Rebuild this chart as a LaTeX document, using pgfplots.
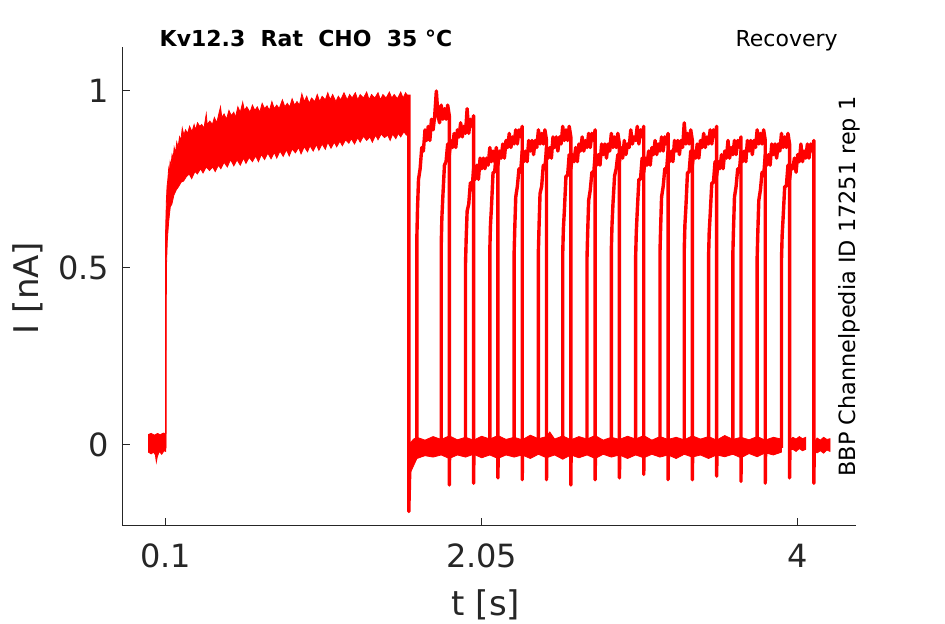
\documentclass[border=0pt]{standalone}
\usepackage{pgfplots}
\pgfplotsset{compat=1.18}
\usepackage{fontspec}
\setmainfont{DejaVu Sans}
\definecolor{axgray}{HTML}{262626}
\definecolor{trace}{RGB}{255,0,0}
\pgfplotsset{
  band/.style={fill=trace, draw=trace, line width=0.4pt, mark=none, solid},
  pulse/.style={draw=trace, line width=1.7pt, line join=round, mark=none, solid},
}
\begin{document}
\begin{tikzpicture}
\useasboundingbox (0,0) rectangle (472.5pt,312pt);
\begin{axis}[
  at={(61pt,49pt)}, anchor=south west,
  scale only axis, width=367pt, height=239.5pt,
  xmin=-0.17, xmax=4.36, ymin=-0.231, ymax=1.1245,
  axis lines=left,
  axis line style={-, draw=axgray, line width=0.5pt},
  tick style={draw=axgray, line width=0.5pt},
  tick align=inside, major tick length=3.8pt,
  xtick={0.1,2.05,4}, xticklabels={0.1,2.05,4},
  ytick={0,0.5,1}, yticklabels={0,0.5,1},
  /pgf/number format/assume math mode=true,
  ticklabel style={font=\fontsize{16}{19}\selectfont, text=axgray},
  xticklabel style={yshift=-5.5pt},
  yticklabel style={xshift=-3pt},
  xlabel={t [s]},
  ylabel={I [nA]},
  xlabel style={at={(axis description cs:0.496,-0.165)}, anchor=center, font=\fontsize{17}{20}\selectfont, text=axgray},
  ylabel style={at={(axis description cs:-0.1287,0.497)}, anchor=center, rotate=0, font=\fontsize{17}{20}\selectfont, text=axgray},
  clip=false,
]
% baseline before first pulse
\addplot[band] coordinates {
(-0.007,0.028)(0.01,0.031)(0.03,0.026)(0.05,0.031)(0.065,0.027)(0.085,0.032)(0.1,0.03)
(0.1,-0.02)(0.09,-0.018)(0.075,-0.028)(0.06,-0.02)(0.048,-0.035)(0.042,-0.05)(0.036,-0.03)(0.025,-0.022)(0.01,-0.027)(-0.007,-0.022)
} -- cycle;
% first (conditioning) pulse, all sweeps overlaid
\addplot[band] coordinates {
(0.098,-0.01)(0.098,0.58)(0.100,0.62)(0.104,0.69)(0.108,0.73)(0.113,0.75)(0.118,0.78)(0.122,0.77)(0.127,0.80)(0.133,0.79)
(0.139,0.82)(0.146,0.81)(0.152,0.84)(0.160,0.825)(0.168,0.855)(0.176,0.84)(0.185,0.87)(0.193,0.86)(0.202,0.895)(0.212,0.875)
(0.222,0.89)(0.235,0.88)(0.247,0.9)(0.262,0.885)(0.275,0.905)(0.284,0.89)(0.296,0.91)(0.31,0.9)(0.322,0.905)(0.336,0.895)
(0.35,0.935)(0.356,0.905)(0.372,0.915)(0.388,0.905)(0.40,0.925)(0.415,0.91)(0.43,0.94)(0.438,0.955)(0.446,0.925)(0.46,0.935)
(0.475,0.92)(0.49,0.945)(0.505,0.93)(0.52,0.94)(0.53,0.925)(0.545,0.955)(0.56,0.94)(0.575,0.968)(0.585,0.945)(0.60,0.955)
(0.62,0.94)(0.635,0.96)(0.65,0.945)(0.665,0.955)(0.68,0.94)(0.695,0.965)(0.71,0.95)(0.725,0.958)(0.74,0.945)(0.755,0.97)
(0.77,0.95)(0.785,0.96)(0.80,0.95)(0.82,0.975)(0.835,0.955)(0.85,0.965)(0.865,0.955)(0.88,0.978)(0.895,0.96)(0.91,0.97)
(0.925,0.96)(0.94,0.992)(0.955,0.97)(0.97,0.985)(0.985,0.965)(1.0,0.98)(1.02,0.97)(1.035,0.99)(1.05,0.97)(1.065,0.985)
(1.085,0.975)(1.10,0.995)(1.115,0.975)(1.13,0.99)(1.15,0.97)(1.165,0.985)(1.18,0.975)(1.20,0.995)(1.22,0.975)(1.235,0.99)
(1.25,0.98)(1.27,0.995)(1.285,0.975)(1.30,0.99)(1.32,0.98)(1.34,0.997)(1.355,0.975)(1.37,0.99)(1.39,0.98)(1.41,0.995)
(1.425,0.975)(1.44,0.99)(1.46,0.98)(1.48,0.997)(1.495,0.98)(1.51,0.99)(1.53,0.978)(1.55,0.997)(1.565,0.98)(1.58,0.995)
(1.595,0.985)(1.600,0.98)
(1.600,0.88)(1.585,0.875)(1.57,0.885)(1.55,0.87)(1.535,0.88)(1.52,0.865)(1.50,0.878)(1.485,0.86)(1.47,0.875)(1.45,0.868)
(1.43,0.878)(1.41,0.862)(1.395,0.875)(1.375,0.855)(1.36,0.87)(1.34,0.86)(1.32,0.872)(1.30,0.855)(1.285,0.868)(1.265,0.85)
(1.245,0.865)(1.23,0.852)(1.21,0.862)(1.19,0.845)(1.175,0.858)(1.155,0.842)(1.14,0.855)(1.12,0.838)(1.10,0.855)(1.085,0.835)
(1.065,0.85)(1.045,0.832)(1.03,0.848)(1.01,0.83)(0.99,0.845)(0.975,0.828)(0.955,0.842)(0.935,0.822)(0.92,0.84)(0.90,0.825)
(0.88,0.836)(0.862,0.816)(0.845,0.834)(0.825,0.815)(0.805,0.83)(0.785,0.81)(0.77,0.826)(0.75,0.808)(0.73,0.824)(0.71,0.806)
(0.69,0.82)(0.672,0.80)(0.655,0.816)(0.635,0.80)(0.615,0.812)(0.595,0.795)(0.58,0.81)(0.56,0.79)(0.54,0.805)(0.52,0.788)
(0.50,0.806)(0.48,0.785)(0.46,0.798)(0.44,0.78)(0.425,0.79)(0.405,0.772)(0.39,0.785)(0.37,0.775)(0.35,0.785)(0.33,0.768)
(0.315,0.78)(0.295,0.765)(0.28,0.772)(0.26,0.752)(0.245,0.765)(0.228,0.758)(0.21,0.745)(0.195,0.742)(0.18,0.73)(0.165,0.72)
(0.15,0.705)(0.138,0.68)(0.128,0.672)(0.118,0.63)(0.110,0.58)(0.104,0.50)(0.102,-0.01)
} -- cycle;
% deactivation at 1.6 s
\addplot[pulse] coordinates {(1.6,0.99)(1.6,-0.19)(1.603,-0.13)(1.606,-0.07)(1.61,-0.03)};
% baseline between pulses, all sweeps overlaid
\addplot[band] coordinates {
(1.61,0.005)(1.63,0.015)(1.65,0.02)(1.70,0.012)(1.75,0.022)(1.80,0.014)(1.85,0.024)(1.90,0.013)(1.95,0.02)
(2.00,0.012)(2.05,0.023)(2.10,0.015)(2.15,0.025)(2.20,0.014)(2.25,0.02)(2.30,0.013)(2.35,0.026)(2.40,0.016)
(2.45,0.022)(2.47,0.035)(2.50,0.015)(2.55,0.024)(2.60,0.013)(2.65,0.022)(2.70,0.015)(2.75,0.025)(2.80,0.012)
(2.85,0.02)(2.90,0.014)(2.95,0.023)(3.00,0.015)(3.05,0.025)(3.10,0.012)(3.15,0.022)(3.20,0.014)(3.25,0.02)
(3.30,0.013)(3.35,0.024)(3.40,0.015)(3.45,0.022)(3.50,0.012)(3.55,0.025)(3.60,0.014)(3.65,0.02)(3.70,0.013)
(3.75,0.022)(3.80,0.012)(3.85,0.02)(3.90,0.015)
(3.90,-0.022)(3.85,-0.03)(3.80,-0.024)(3.75,-0.035)(3.70,-0.026)(3.65,-0.038)(3.60,-0.028)(3.55,-0.035)
(3.50,-0.03)(3.45,-0.04)(3.40,-0.03)(3.35,-0.036)(3.30,-0.028)(3.25,-0.04)(3.20,-0.03)(3.15,-0.036)(3.10,-0.028)
(3.05,-0.038)(3.00,-0.03)(2.95,-0.04)(2.90,-0.03)(2.85,-0.036)(2.80,-0.028)(2.75,-0.04)(2.70,-0.03)(2.65,-0.038)
(2.60,-0.03)(2.55,-0.042)(2.50,-0.03)(2.45,-0.038)(2.40,-0.028)(2.35,-0.04)(2.30,-0.03)(2.25,-0.036)(2.20,-0.03)
(2.15,-0.04)(2.10,-0.03)(2.05,-0.038)(2.00,-0.028)(1.95,-0.036)(1.90,-0.03)(1.85,-0.04)(1.80,-0.03)(1.75,-0.036)
(1.70,-0.032)(1.65,-0.04)(1.63,-0.06)(1.61,-0.08)
} -- cycle;
\addplot[band] coordinates {
(3.95,0.012)(3.97,0.02)(3.99,0.015)(4.01,0.022)(4.03,0.016)(4.05,0.02)
(4.05,-0.014)(4.03,-0.018)(4.01,-0.012)(3.99,-0.02)(3.97,-0.014)(3.95,-0.018)} -- cycle;
\addplot[band] coordinates {
(4.10,0.005)(4.12,0.018)(4.14,0.012)(4.16,0.02)(4.18,0.014)(4.20,0.016)
(4.20,-0.02)(4.18,-0.016)(4.16,-0.025)(4.14,-0.018)(4.12,-0.024)(4.10,-0.02)} -- cycle;
% recovery pulses (one per sweep)
\addplot[pulse] coordinates {(1.65,-0.01)(1.65,0.59)(1.654,0.67)(1.66,0.75)(1.67,0.78)(1.68,0.84)(1.69,0.83)(1.70,0.89)(1.71,0.86)(1.72,0.90)(1.73,0.86)(1.74,0.92)(1.75,0.89)(1.76,0.93)(1.77,1.00)(1.78,0.93)(1.79,0.91)(1.80,0.96)(1.81,0.92)(1.82,0.95)(1.83,0.92)(1.84,0.96)(1.85,0.93)(1.85,-0.115)(1.852,-0.02)};
\addplot[pulse] coordinates {(1.80,-0.01)(1.80,0.56)(1.804,0.64)(1.81,0.70)(1.82,0.79)(1.83,0.80)(1.84,0.85)(1.85,0.82)(1.86,0.86)(1.87,0.84)(1.88,0.88)(1.89,0.84)(1.90,0.89)(1.91,0.87)(1.92,0.91)(1.93,0.87)(1.94,0.90)(1.95,0.88)(1.96,0.95)(1.97,0.88)(1.98,0.92)(1.99,0.90)(2.00,0.93)(2.00,-0.11)(2.002,-0.02)};
\addplot[pulse] coordinates {(1.95,-0.01)(1.95,0.51)(1.954,0.58)(1.96,0.66)(1.97,0.68)(1.98,0.74)(1.99,0.72)(2.00,0.78)(2.01,0.75)(2.02,0.79)(2.03,0.75)(2.04,0.81)(2.05,0.78)(2.06,0.81)(2.07,0.78)(2.08,0.81)(2.09,0.79)(2.10,0.84)(2.11,0.80)(2.12,0.83)(2.13,0.80)(2.14,0.84)(2.15,0.81)(2.15,-0.095)(2.152,-0.02)};
\addplot[pulse] coordinates {(2.10,-0.01)(2.10,0.55)(2.104,0.62)(2.11,0.67)(2.12,0.77)(2.13,0.77)(2.14,0.83)(2.15,0.79)(2.16,0.83)(2.17,0.81)(2.18,0.85)(2.19,0.81)(2.20,0.86)(2.21,0.84)(2.22,0.88)(2.23,0.84)(2.24,0.87)(2.25,0.85)(2.26,0.89)(2.27,0.85)(2.28,0.89)(2.29,0.87)(2.30,0.90)(2.30,-0.10)(2.302,-0.02)};
\addplot[pulse] coordinates {(2.25,-0.01)(2.25,0.54)(2.254,0.61)(2.26,0.70)(2.27,0.73)(2.28,0.78)(2.29,0.77)(2.30,0.83)(2.31,0.80)(2.32,0.83)(2.33,0.80)(2.34,0.86)(2.35,0.83)(2.36,0.86)(2.37,0.82)(2.38,0.86)(2.39,0.84)(2.40,0.89)(2.41,0.85)(2.42,0.88)(2.43,0.85)(2.44,0.89)(2.45,0.86)(2.45,-0.10)(2.452,-0.02)};
\addplot[pulse] coordinates {(2.40,-0.01)(2.40,0.55)(2.404,0.62)(2.41,0.71)(2.42,0.73)(2.43,0.79)(2.44,0.78)(2.45,0.84)(2.46,0.81)(2.47,0.84)(2.48,0.81)(2.49,0.87)(2.50,0.84)(2.51,0.87)(2.52,0.83)(2.53,0.87)(2.54,0.85)(2.55,0.90)(2.56,0.86)(2.57,0.89)(2.58,0.86)(2.59,0.90)(2.60,0.87)(2.60,-0.115)(2.602,-0.02)};
\addplot[pulse] coordinates {(2.55,-0.01)(2.55,0.54)(2.554,0.61)(2.56,0.66)(2.57,0.76)(2.58,0.76)(2.59,0.82)(2.60,0.78)(2.61,0.82)(2.62,0.80)(2.63,0.84)(2.64,0.80)(2.65,0.85)(2.66,0.83)(2.67,0.87)(2.68,0.83)(2.69,0.86)(2.70,0.84)(2.71,0.88)(2.72,0.84)(2.73,0.88)(2.74,0.86)(2.75,0.89)(2.75,-0.10)(2.752,-0.02)};
\addplot[pulse] coordinates {(2.70,-0.01)(2.70,0.53)(2.704,0.60)(2.71,0.69)(2.72,0.72)(2.73,0.77)(2.74,0.76)(2.75,0.82)(2.76,0.79)(2.77,0.82)(2.78,0.79)(2.79,0.85)(2.80,0.82)(2.81,0.85)(2.82,0.81)(2.83,0.85)(2.84,0.83)(2.85,0.88)(2.86,0.84)(2.87,0.87)(2.88,0.84)(2.89,0.88)(2.90,0.85)(2.90,-0.095)(2.902,-0.02)};
\addplot[pulse] coordinates {(2.85,-0.01)(2.85,0.55)(2.854,0.62)(2.86,0.68)(2.87,0.76)(2.88,0.78)(2.89,0.82)(2.90,0.80)(2.91,0.84)(2.92,0.81)(2.93,0.86)(2.94,0.82)(2.95,0.85)(2.96,0.84)(2.97,0.89)(2.98,0.85)(2.99,0.87)(3.00,0.86)(3.01,0.90)(3.02,0.85)(3.03,0.89)(3.04,0.87)(3.05,0.90)(3.05,-0.085)(3.052,-0.02)};
\addplot[pulse] coordinates {(3.00,-0.01)(3.00,0.53)(3.004,0.60)(3.01,0.66)(3.02,0.75)(3.03,0.75)(3.04,0.81)(3.05,0.77)(3.06,0.81)(3.07,0.79)(3.08,0.83)(3.09,0.79)(3.10,0.84)(3.11,0.82)(3.12,0.86)(3.13,0.82)(3.14,0.85)(3.15,0.83)(3.16,0.87)(3.17,0.83)(3.18,0.87)(3.19,0.85)(3.20,0.88)(3.20,-0.10)(3.202,-0.02)};
\addplot[pulse] coordinates {(3.15,-0.01)(3.15,0.54)(3.154,0.61)(3.16,0.70)(3.17,0.73)(3.18,0.78)(3.19,0.77)(3.20,0.83)(3.21,0.80)(3.22,0.83)(3.23,0.80)(3.24,0.86)(3.25,0.83)(3.26,0.86)(3.27,0.82)(3.28,0.86)(3.29,0.84)(3.30,0.91)(3.31,0.85)(3.32,0.88)(3.33,0.85)(3.34,0.89)(3.35,0.86)(3.35,-0.10)(3.352,-0.02)};
\addplot[pulse] coordinates {(3.30,-0.01)(3.30,0.55)(3.304,0.62)(3.31,0.67)(3.32,0.77)(3.33,0.77)(3.34,0.83)(3.35,0.79)(3.36,0.83)(3.37,0.81)(3.38,0.85)(3.39,0.81)(3.40,0.86)(3.41,0.84)(3.42,0.88)(3.43,0.84)(3.44,0.87)(3.45,0.85)(3.46,0.89)(3.47,0.85)(3.48,0.89)(3.49,0.87)(3.50,0.90)(3.50,-0.09)(3.502,-0.02)};
\addplot[pulse] coordinates {(3.45,-0.01)(3.45,0.53)(3.454,0.60)(3.46,0.65)(3.47,0.74)(3.48,0.74)(3.49,0.80)(3.50,0.76)(3.51,0.80)(3.52,0.78)(3.53,0.82)(3.54,0.78)(3.55,0.83)(3.56,0.81)(3.57,0.86)(3.58,0.81)(3.59,0.84)(3.60,0.82)(3.61,0.86)(3.62,0.82)(3.63,0.86)(3.64,0.84)(3.65,0.87)(3.65,-0.105)(3.652,-0.02)};
\addplot[pulse] coordinates {(3.60,-0.01)(3.60,0.54)(3.604,0.61)(3.61,0.70)(3.62,0.73)(3.63,0.78)(3.64,0.77)(3.65,0.83)(3.66,0.80)(3.67,0.83)(3.68,0.80)(3.69,0.86)(3.70,0.83)(3.71,0.86)(3.72,0.82)(3.73,0.86)(3.74,0.84)(3.75,0.89)(3.76,0.85)(3.77,0.88)(3.78,0.85)(3.79,0.89)(3.80,0.86)(3.80,-0.11)(3.802,-0.02)};
\addplot[pulse] coordinates {(3.75,-0.01)(3.75,0.53)(3.754,0.60)(3.76,0.69)(3.77,0.72)(3.78,0.77)(3.79,0.76)(3.80,0.82)(3.81,0.79)(3.82,0.82)(3.83,0.79)(3.84,0.85)(3.85,0.82)(3.86,0.85)(3.87,0.81)(3.88,0.85)(3.89,0.83)(3.90,0.88)(3.91,0.84)(3.92,0.87)(3.93,0.84)(3.94,0.88)(3.95,0.85)(3.95,-0.095)(3.952,-0.02)};
\addplot[pulse] coordinates {(3.90,-0.01)(3.90,0.52)(3.904,0.59)(3.91,0.64)(3.92,0.73)(3.93,0.73)(3.94,0.79)(3.95,0.75)(3.96,0.79)(3.97,0.78)(3.98,0.81)(3.99,0.77)(4.00,0.82)(4.01,0.80)(4.02,0.85)(4.03,0.80)(4.04,0.83)(4.05,0.81)(4.06,0.85)(4.07,0.81)(4.08,0.85)(4.09,0.83)(4.10,0.86)(4.10,-0.11)(4.102,-0.02)};
% texts
\node[anchor=base, inner sep=0pt, font=\bfseries\fontsize{11}{13}\selectfont] at (axis description cs:0.2507,1.0006) {Kv12.3\ \ Rat\ \ CHO\ \ 35\ °C};
\node[anchor=base east, inner sep=0pt, font=\fontsize{11}{13}\selectfont] at (axis description cs:0.9755,1.002) {Recovery};
\node[rotate=90, anchor=center, inner sep=0pt, font=\fontsize{11.2}{13}\selectfont] at (axis description cs:0.991,0.5) {BBP Channelpedia ID 17251 rep 1};
\end{axis}
\end{tikzpicture}
\end{document}
